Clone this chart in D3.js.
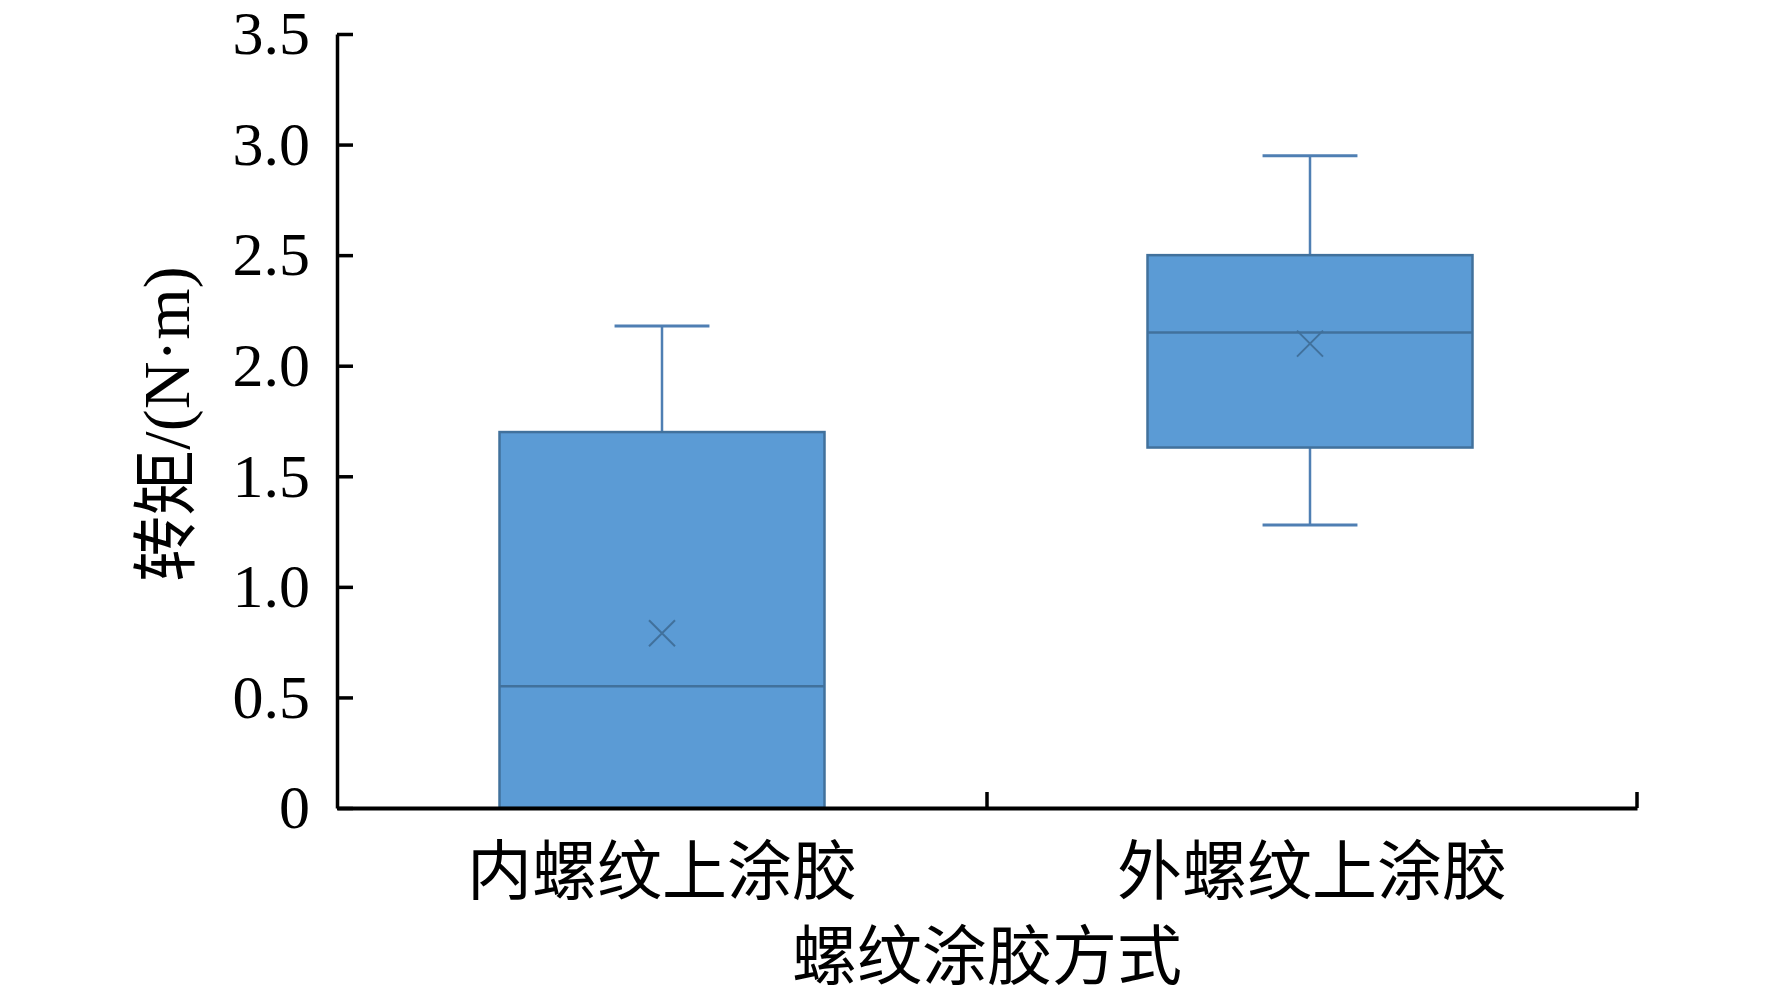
<!DOCTYPE html>
<html>
<head>
<meta charset="utf-8">
<script src="https://cdn.jsdelivr.net/npm/d3@7"></script>
<style>
  html, body { margin: 0; padding: 0; background: #fff; }
  svg { display: block; }
  text { font-family: "Liberation Serif", "Noto Sans CJK SC", serif; fill: #000; }
</style>
</head>
<body>
<svg id="chart" width="1772" height="996"></svg>
<script>
// ---- data ----
const categories = ["内螺纹上涂胶", "外螺纹上涂胶"];
const minValues    = [0.00, 1.28];
const q1Values     = [0.00, 1.63];
const medianValues = [0.55, 2.15];
const q3Values     = [1.70, 2.50];
const maxValues    = [2.18, 2.95];
const meanValues   = [0.79, 2.10];
const yTicks = [0, 0.5, 1.0, 1.5, 2.0, 2.5, 3.0, 3.5];
const yTitle = "转矩/(N·m)";
const xTitle = "螺纹涂胶方式";

(function () {
// ---- layout ----
const svg = d3.select("#chart");
const plotLeft = 337, plotRight = 1637, plotTop = 34, plotBottom = 808;

const y = d3.scaleLinear().domain([0, 3.5]).range([plotBottom, plotTop]);
const x = d3.scaleBand().domain(categories).range([plotLeft, plotRight]).padding(0);

const fill = "#5b9bd5", edge = "#41719c", whisk = "#4f7fb3";

const data = categories.map((c, i) => ({
  cat: c, min: minValues[i], q1: q1Values[i], med: medianValues[i],
  q3: q3Values[i], max: maxValues[i], mean: meanValues[i]
}));

const bw = x.bandwidth() * 0.5;
const capW = x.bandwidth() * 0.146;

const g = svg.append("g");
data.forEach((d, i) => {
  const cx = x(d.cat) + x.bandwidth() / 2 - 2 * i;
  if (d.max > d.q3) {
    g.append("line").attr("x1", cx).attr("x2", cx).attr("y1", y(d.q3)).attr("y2", y(d.max))
      .attr("stroke", whisk).attr("stroke-width", 2.5);
    g.append("line").attr("x1", cx - capW / 2).attr("x2", cx + capW / 2).attr("y1", y(d.max)).attr("y2", y(d.max))
      .attr("stroke", whisk).attr("stroke-width", 3);
  }
  if (d.min < d.q1) {
    g.append("line").attr("x1", cx).attr("x2", cx).attr("y1", y(d.q1)).attr("y2", y(d.min))
      .attr("stroke", whisk).attr("stroke-width", 2.5);
    g.append("line").attr("x1", cx - capW / 2).attr("x2", cx + capW / 2).attr("y1", y(d.min)).attr("y2", y(d.min))
      .attr("stroke", whisk).attr("stroke-width", 3);
  }
  g.append("rect").attr("x", cx - bw / 2).attr("width", bw)
    .attr("y", y(d.q3)).attr("height", y(d.q1) - y(d.q3))
    .attr("fill", fill).attr("stroke", edge).attr("stroke-width", 2.5);
  g.append("line").attr("x1", cx - bw / 2).attr("x2", cx + bw / 2).attr("y1", y(d.med)).attr("y2", y(d.med))
    .attr("stroke", edge).attr("stroke-width", 2.5);
  const s = 13, my = y(d.mean);
  g.append("path").attr("d", `M${cx - s},${my - s}L${cx + s},${my + s}M${cx - s},${my + s}L${cx + s},${my - s}`)
    .attr("stroke", edge).attr("stroke-width", 2).attr("fill", "none");
});

// ---- y axis ----
const yAxis = d3.axisLeft(y).tickValues(yTicks)
  .tickFormat(v => v === 0 ? "0" : d3.format(".1f")(v))
  .tickSizeInner(-16).tickSizeOuter(0).tickPadding(27);
const ya = svg.append("g").attr("transform", `translate(${plotLeft},0)`).call(yAxis);
ya.select(".domain").attr("stroke", "#000").attr("stroke-width", 3.5);
ya.selectAll(".tick line").attr("stroke", "#000").attr("stroke-width", 3.5);
ya.selectAll(".tick text").attr("font-size", 62).attr("fill", "#000")
  .attr("font-family", "Liberation Serif, serif");

// ---- x axis ----
const xAxis = d3.axisBottom(x).tickSize(0).tickPadding(53);
const xa = svg.append("g").attr("transform", `translate(0,${plotBottom})`).call(xAxis);
xa.select(".domain").attr("stroke", "#000").attr("stroke-width", 4);
xa.selectAll(".tick text").attr("font-size", 65).attr("fill", "#000")
  .attr("font-family", "Noto Sans CJK SC, sans-serif").attr("dy", "0.5em");
categories.forEach(c => {
  const bx = x(c) + x.bandwidth();
  xa.append("line").attr("x1", bx).attr("x2", bx).attr("y1", 0).attr("y2", -16)
    .attr("stroke", "#000").attr("stroke-width", 3.5);
});

// ---- titles ----
svg.append("text")
  .attr("transform", `translate(166,${(plotTop + plotBottom) / 2 + 3}) rotate(-90)`)
  .attr("text-anchor", "middle").attr("dominant-baseline", "central")
  .attr("font-size", 66).text(yTitle);

svg.append("text")
  .attr("x", (plotLeft + plotRight) / 2).attr("y", 957)
  .attr("text-anchor", "middle").attr("dominant-baseline", "central")
  .attr("font-family", "Noto Sans CJK SC, sans-serif")
  .attr("font-size", 65).text(xTitle);
})();
</script>
</body>
</html>
